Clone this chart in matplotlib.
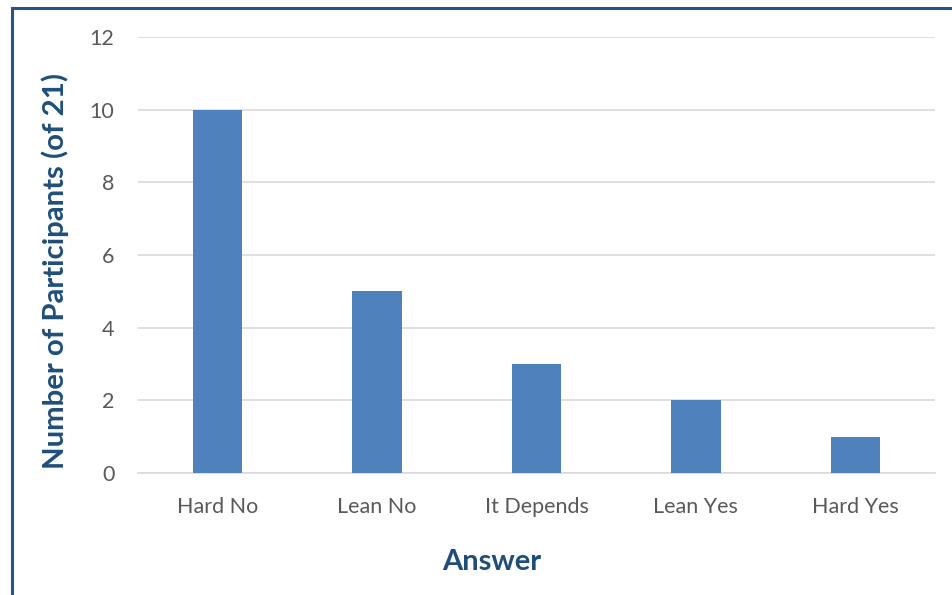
import matplotlib
matplotlib.use("Agg")
import matplotlib.pyplot as plt
from matplotlib.lines import Line2D

categories = ["Hard No", "Lean No", "It Depends", "Lean Yes", "Hard Yes"]
values = [10, 5, 3, 2, 1]
yticks = [0, 2, 4, 6, 8, 10, 12]

plt.rcParams['font.family'] = ['Lato', 'DejaVu Sans']

fig = plt.figure(figsize=(9.52, 5.95), dpi=100)
ax = fig.add_axes([138/952, 1-473/595, (935-138)/952, (473-37)/595])

x = range(len(categories))
ax.bar(x, values, width=0.31, color="#4F81BD", zorder=3)
ax.set_xlim(-0.5, len(categories) - 0.5)
ax.set_ylim(0, 12)
ax.set_yticks(yticks)
ax.set_xticks(list(x))
ax.set_xticklabels(categories)
ax.tick_params(axis='both', length=0, labelsize=15.5, colors="#595959")
ax.tick_params(axis='x', pad=17)
ax.tick_params(axis='y', pad=17)
ax.grid(axis='y', color="#D9D9D9", linewidth=1.2, zorder=0)
for s in ['top', 'right', 'left']:
    ax.spines[s].set_visible(False)
ax.spines['bottom'].set_color("#D9D9D9")
ax.spines['bottom'].set_linewidth(1.2)

ax.set_xlabel("Answer", fontsize=21, fontweight='bold', color="#1F4E79", labelpad=23)
ax.set_ylabel("Number of Participants (of 21)", fontsize=21.2, fontweight='bold', color="#1F4E79", labelpad=15)
ax.xaxis.label.set_x(0.444)
ax.yaxis.label.set_y(0.463)

# frame lines
fig.add_artist(Line2D([12/952, 12/952], [0, 1-8/595], transform=fig.transFigure, color="#2A5389", linewidth=2.2))
fig.add_artist(Line2D([12/952, 1], [1-8/595, 1-8/595], transform=fig.transFigure, color="#2A5389", linewidth=2.2))

fig.savefig("out.png", dpi=100)
